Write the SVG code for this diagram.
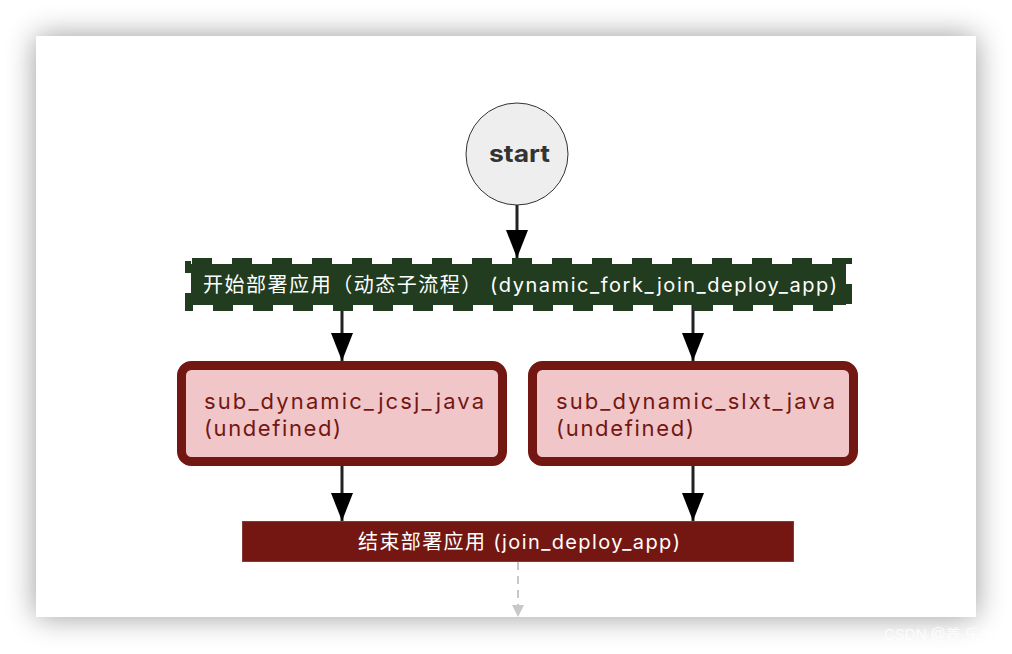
<svg xmlns="http://www.w3.org/2000/svg" width="1012" height="654" viewBox="0 0 1012 654">
  <defs>
    <filter id="shadow" x="-10%" y="-10%" width="120%" height="125%">
      <feGaussianBlur in="SourceAlpha" stdDeviation="15"/>
      <feComponentTransfer><feFuncA type="linear" slope="0.4"/></feComponentTransfer>
      <feMerge><feMergeNode/><feMergeNode in="SourceGraphic"/></feMerge>
    </filter>
    <marker id="arr" viewBox="0 0 28 22" refX="28" refY="11" markerWidth="28" markerHeight="22" markerUnits="userSpaceOnUse" orient="auto">
      <path d="M0,0 L28,11 L0,22 Z" fill="#000"/>
    </marker>
    <marker id="arrGray" viewBox="0 0 12 12" refX="12" refY="6" markerWidth="12" markerHeight="12" markerUnits="userSpaceOnUse" orient="auto">
      <path d="M0,0 L12,6 L0,12 Z" fill="#c8c8c8"/>
    </marker>
  </defs>
  <style>
    .edge { stroke: #222; stroke-width: 3; fill: none; }
    .lbl { font-family: Inter, "Liberation Sans", "Noto Sans CJK SC", sans-serif; }
    .white { fill: #fff; font-size: 20px; }
    .sub rect { fill: #f1c6c8; stroke: #731713; stroke-width: 9; }
    .sub text { fill: #731713; font-size: 22px; }
  </style>
  <rect x="0" y="0" width="1012" height="654" fill="#fff"/>
  <rect x="36" y="36" width="940" height="581" fill="#fff" filter="url(#shadow)"/>
  <text x="884" y="640" class="lbl" font-size="15" fill="#fff" fill-opacity="0.8">CSDN @养 乐多</text>

  <g id="connectors">
    <line class="edge" x1="517" y1="205" x2="517" y2="258" marker-end="url(#arr)"/>
    <line class="edge" x1="342" y1="305" x2="342" y2="361" marker-end="url(#arr)"/>
    <line class="edge" x1="693" y1="305" x2="693" y2="361" marker-end="url(#arr)"/>
    <line class="edge" x1="342" y1="466" x2="342" y2="521" marker-end="url(#arr)"/>
    <line class="edge" x1="693" y1="466" x2="693" y2="521" marker-end="url(#arr)"/>
    <line x1="518" y1="562" x2="518" y2="617" stroke="#c8c8c8" stroke-width="2" stroke-dasharray="8 6" marker-end="url(#arrGray)"/>
  </g>

  <g id="start">
    <circle cx="517" cy="154" r="51" fill="#eeeeee" stroke="#333" stroke-width="1"/>
    <text x="489" y="162" textLength="61" lengthAdjust="spacingAndGlyphs" class="lbl" font-size="24" font-weight="bold" fill="#333">start</text>
  </g>

  <g id="dynamic_fork_join_deploy_app">
    <rect x="191" y="264" width="655" height="41" fill="#213c1f"/>
    <rect x="188" y="261" width="661" height="47" fill="none" stroke="#213c1f" stroke-width="6" stroke-dasharray="20 20" stroke-dashoffset="36"/>
    <text x="203" y="292" textLength="634" lengthAdjust="spacing" class="lbl white">开始部署应用（动态子流程） (dynamic_fork_join_deploy_app)</text>
  </g>

  <g id="sub_dynamic_jcsj_java" class="sub">
    <rect x="181.5" y="365.5" width="321" height="96" rx="10"/>
    <text x="204" y="409" textLength="280" lengthAdjust="spacing" class="lbl">sub_dynamic_jcsj_java</text>
    <text x="204" y="436" textLength="137" lengthAdjust="spacing" class="lbl">(undefined)</text>
  </g>

  <g id="sub_dynamic_slxt_java" class="sub">
    <rect x="532.5" y="365.5" width="321" height="96" rx="10"/>
    <text x="556" y="409" textLength="279" lengthAdjust="spacing" class="lbl">sub_dynamic_slxt_java</text>
    <text x="556" y="436" textLength="138" lengthAdjust="spacing" class="lbl">(undefined)</text>
  </g>

  <g id="join_deploy_app">
    <rect x="242.5" y="521.5" width="551" height="40" fill="#741713" stroke="#8a3a36" stroke-width="1"/>
    <text x="358" y="549" textLength="322" lengthAdjust="spacing" class="lbl white">结束部署应用 (join_deploy_app)</text>
  </g>
</svg>
